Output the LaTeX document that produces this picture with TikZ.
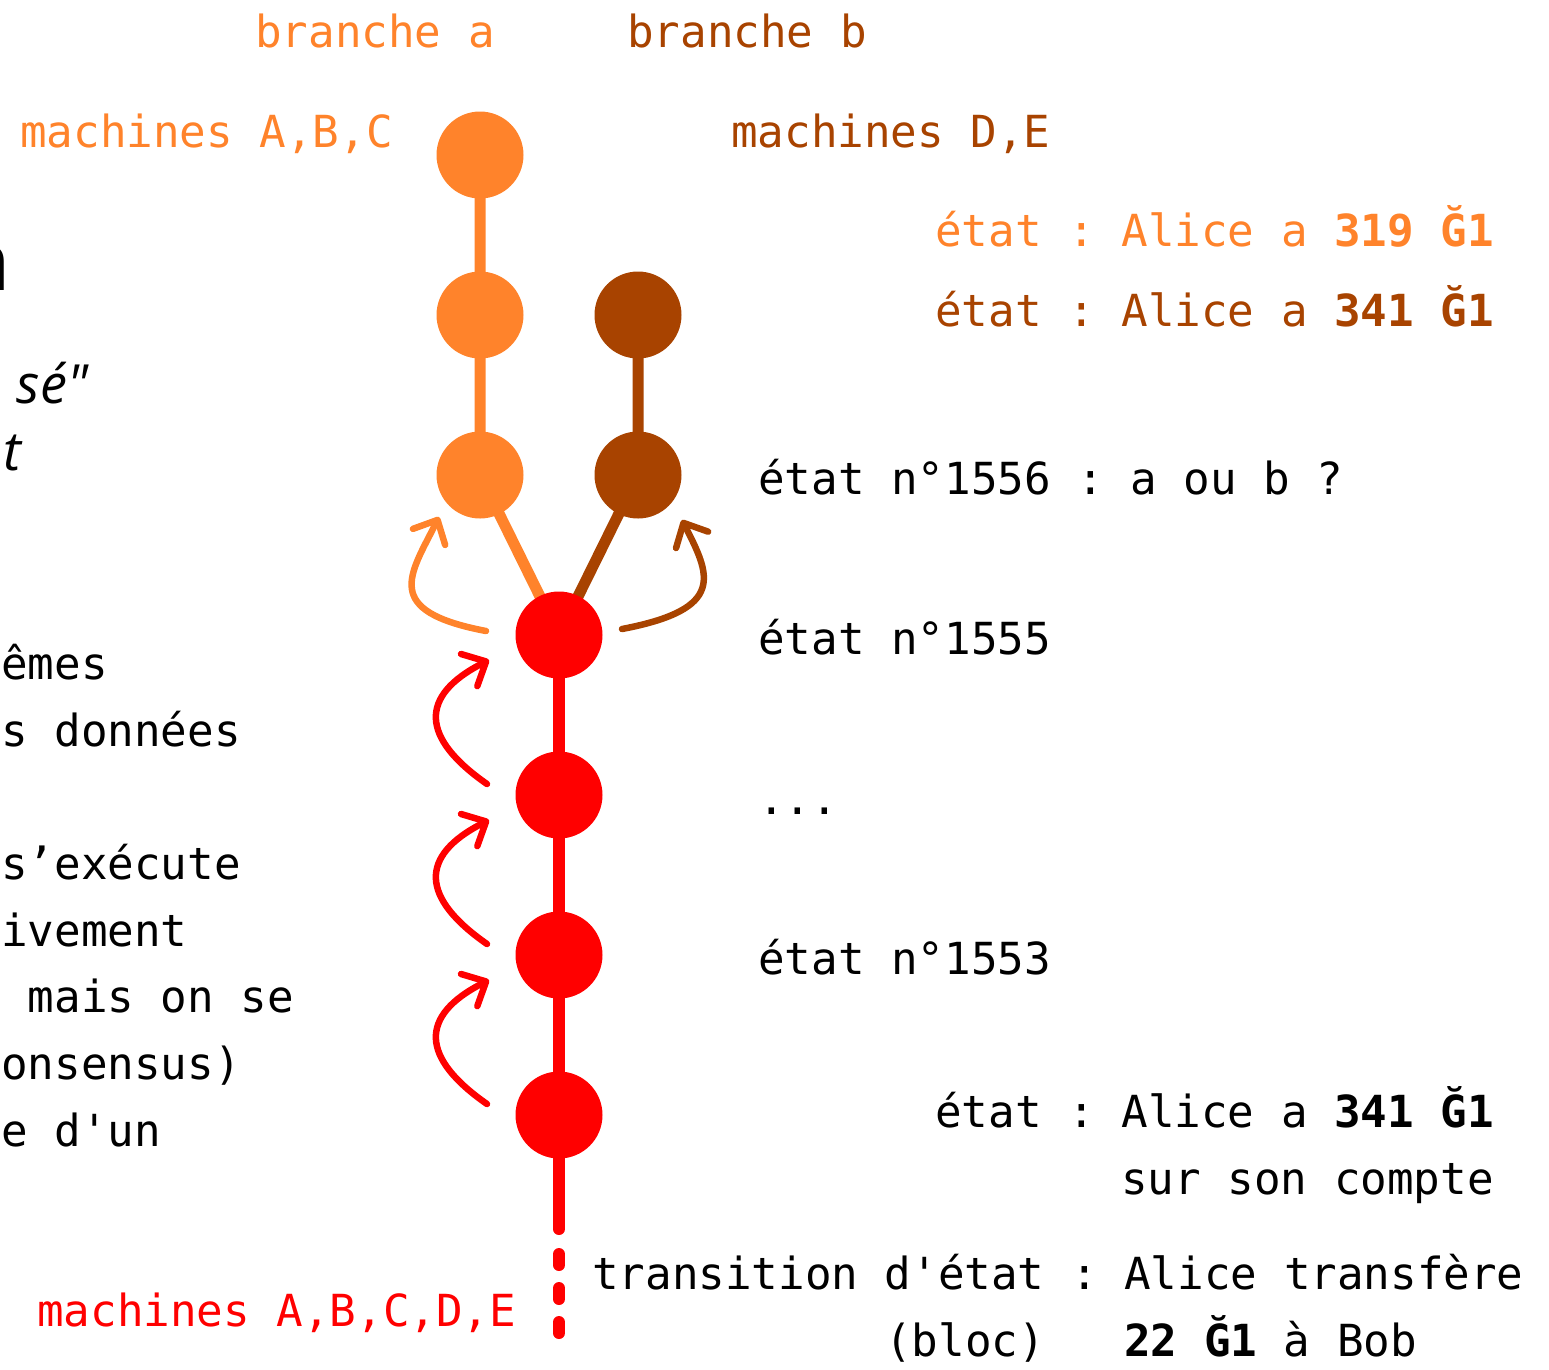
\documentclass[tikz,border=0pt]{standalone}
\usepackage{fontspec}
\setmonofont{DejaVu Sans Mono}
\newfontfamily\sidefont{Open Sans}
\usetikzlibrary{arrows.meta,backgrounds}
\definecolor{orA}{RGB}{255,131,43}
\definecolor{brB}{RGB}{168,67,0}
\definecolor{rdC}{RGB}{255,0,0}
\begin{document}
\begin{tikzpicture}[x=1pt,y=-1pt,
  mono/.style={font=\fontsize{44.2}{50}\selectfont\ttfamily, inner sep=0pt, anchor=base west},
  side/.style={font=\fontsize{54}{60}\selectfont\sidefont\itshape, inner sep=0pt, anchor=base east},
  dot/.style={circle, fill=#1, minimum size=87pt, inner sep=0pt},
  edgeline/.style={line width=11pt, draw=#1},
  bendarrow/.style={draw=#1, line width=6.5pt, line cap=round,
    -{Straight Barb[length=19pt,width=36pt,round]}}]
\useasboundingbox (0,0) rectangle (1549,1369);

% states
\node[dot=orA] (a1) at (480,155) {};
\node[dot=orA] (a2) at (480,315) {};
\node[dot=orA] (a3) at (480,475) {};
\node[dot=brB] (b2) at (638,315) {};
\node[dot=brB] (b3) at (638,475) {};
\node[dot=rdC] (r1) at (559,635) {};
\node[dot=rdC] (r2) at (559,795) {};
\node[dot=rdC] (r3) at (559,955) {};
\node[dot=rdC] (r4) at (559,1115) {};
\coordinate (rend) at (559,1229);
\coordinate (dstart) at (559,1254);
\coordinate (dend) at (559,1334);

\begin{scope}[on background layer]
  \draw[edgeline=orA] (a1.center) -- (a2.center) -- (a3.center) -- (r1.center);
  \draw[edgeline=brB] (b2.center) -- (b3.center) -- (r1.center);
  \draw[line width=12pt, draw=rdC, line cap=round] (r1.center) -- (r2.center) -- (r3.center) -- (r4.center) -- (rend);
\end{scope}
\draw[line width=12pt, draw=rdC, line cap=round, dash pattern=on 11pt off 23pt] (dstart) -- (dend);

% curved arrows
\draw[bendarrow=orA] ([shift={(-73,-4)}]r1.center) .. controls ([shift={(-178,-24)}]r1.center) and ([shift={(-70,100)}]a3.center) .. ([shift={(-41,42)}]a3.center);
\draw[bendarrow=brB] ([shift={(63,-6)}]r1.center) .. controls ([shift={(168,-26)}]r1.center) and ([shift={(72,100)}]b3.center) .. ([shift={(44,45)}]b3.center);
\draw[bendarrow=rdC] ([shift={(-72,-11)}]r2.center) .. controls ([shift={(-138,-57)}]r2.center) and ([shift={(-141,61)}]r1.center) .. ([shift={(-70,25)}]r1.center);
\draw[bendarrow=rdC] ([shift={(-72,-11)}]r3.center) .. controls ([shift={(-138,-57)}]r3.center) and ([shift={(-141,61)}]r2.center) .. ([shift={(-70,25)}]r2.center);
\draw[bendarrow=rdC] ([shift={(-72,-11)}]r4.center) .. controls ([shift={(-138,-57)}]r4.center) and ([shift={(-141,61)}]r3.center) .. ([shift={(-70,25)}]r3.center);

% top labels
\node[mono, text=orA] (brA) at (255,47) {branche a};
\node[mono, text=brB] (brBl) at (627,47) {branche b};
\node[mono, text=orA] (mABC) at (20,147) {machines A,B,C};
\node[mono, text=brB] (mDE) at (731,147) {machines D,E};
\node[mono, text=orA] (sA) at (935,246) {état : Alice a {\bfseries 319 Ğ1}};
\node[mono, text=brB] (sB) at (935,326) {état : Alice a {\bfseries 341 Ğ1}};

% right labels
\node[mono] (s1556) at (758,494) {état n°1556 : a ou b ?};
\node[mono] (s1555) at (758,654) {état n°1555};
\node[mono] (sdots) at (758,814) {...};
\node[mono] (s1553) at (758,974) {état n°1553};
\node[mono] (s0a) at (935,1127) {état : Alice a {\bfseries 341 Ğ1}};
\node[mono] (s0b) at (1121,1194) {sur son compte};
\node[mono] (tr1) at (592,1289) {transition d'état : Alice transfère};
\node[mono] (tr2) at (885,1356) {(bloc)};
\node[mono] (tr3) at (1124,1356) {{\bfseries 22 Ğ1} à Bob};
\node[mono, text=rdC] (mAll) at (37,1326) {machines A,B,C,D,E};

% cut-off text at the left edge
\node[font=\fontsize{82}{90}\selectfont\sidefont, inner sep=0pt, anchor=base east] (l0) at (11,290) {n};
\node[side] (l1) at (88,403) {sé"};
\node[side] (l2) at (21,470) {t};
\node[mono] (l3) at (1,679) {êmes};
\node[mono] (l4) at (1,746) {s données};
\node[mono] (l5) at (1,879) {s’exécute};
\node[mono] (l6) at (1,946) {ivement};
\node[mono] (l7) at (27.6,1012) {mais on se};
\node[mono] (l8) at (1,1079) {onsensus)};
\node[mono] (l9) at (1,1146) {e d'un};
\end{tikzpicture}
\end{document}
